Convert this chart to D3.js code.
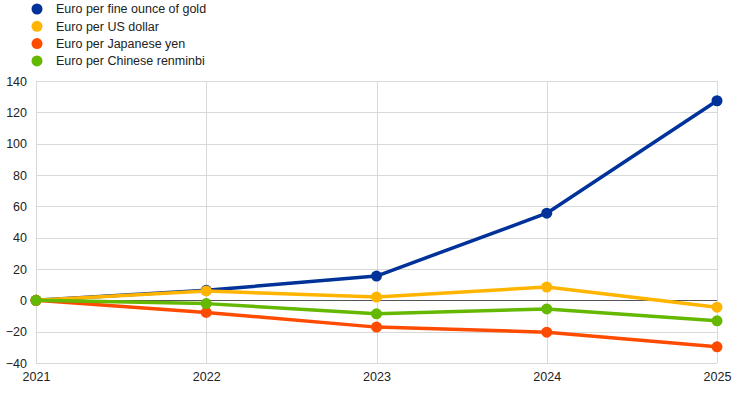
<!DOCTYPE html>
<html>
<head>
<meta charset="utf-8">
<script src="https://cdn.jsdelivr.net/npm/d3@7"></script>
<style>
  body { margin: 0; background: #fff; }
  text { font-family: "Liberation Sans", Arial, sans-serif; fill: #222; }
</style>
</head>
<body>
<div id="chart"></div>
<script>
const years = [2021, 2022, 2023, 2024, 2025];
const seriesNames = ['Euro per fine ounce of gold', 'Euro per US dollar', 'Euro per Japanese yen', 'Euro per Chinese renminbi'];
const gold = [0, 6.4, 15.5, 55.6, 127.4];
const usd = [0, 6.0, 2.1, 8.5, -4.4];
const jpy = [0, -7.7, -17.1, -20.3, -29.7];
const cny = [0, -2.1, -8.6, -5.5, -13.1];
const yTicks = [-40, -20, 0, 20, 40, 60, 80, 100, 120, 140];

const WIDTH = 744;
const HEIGHT = 393;
const MARGIN = { top: 81, right: 27, bottom: 30, left: 36 };
const COLORS = ['#003299', '#ffb400', '#ff4b00', '#65b800'];
const FONT_SIZE = '12.5px';

const seriesValues = [gold, usd, jpy, cny];

const svg = d3.select('#chart')
  .append('svg')
    .attr('width', WIDTH)
    .attr('height', HEIGHT);

const x = d3.scaleLinear()
  .domain([2021, 2025])
  .range([MARGIN.left, WIDTH - MARGIN.right]);
const y = d3.scaleLinear()
  .domain([-40, 140])
  .range([HEIGHT - MARGIN.bottom, MARGIN.top]);

// horizontal grid
svg.append('g')
  .selectAll('line')
  .data(yTicks)
  .enter()
  .append('line')
    .attr('x1', MARGIN.left)
    .attr('x2', WIDTH - MARGIN.right)
    .attr('y1', d => Math.round(y(d)) + 0.5)
    .attr('y2', d => Math.round(y(d)) + 0.5)
    .attr('stroke', '#d9d9d9')
    .attr('stroke-width', 1);

// vertical grid (one per year)
svg.append('g')
  .selectAll('line')
  .data(years)
  .enter()
  .append('line')
    .attr('x1', d => Math.round(x(d)) + 0.5)
    .attr('x2', d => Math.round(x(d)) + 0.5)
    .attr('y1', MARGIN.top)
    .attr('y2', HEIGHT - MARGIN.bottom)
    .attr('stroke', '#d9d9d9');

// zero line on top of the grid
svg.append('line')
  .attr('x1', MARGIN.left)
  .attr('x2', WIDTH - MARGIN.right)
  .attr('y1', Math.round(y(0)) + 0.5)
  .attr('y2', Math.round(y(0)) + 0.5)
  .attr('stroke', '#555');

// y axis labels
const yAxis = d3.axisLeft(y).tickValues(yTicks).tickSize(0).tickPadding(9);
svg.append('g')
  .attr('transform', `translate(${MARGIN.left}, 0)`)
  .call(yAxis)
  .call(g => g.select('.domain').remove())
  .selectAll('text')
    .style('font-size', FONT_SIZE)
    .attr('fill', '#222');

// x axis labels
const xAxis = d3.axisBottom(x).tickValues(years).tickFormat(d3.format('d')).tickSize(0).tickPadding(9);
svg.append('g')
  .attr('transform', `translate(0, ${HEIGHT - MARGIN.bottom})`)
  .call(xAxis)
  .call(g => g.select('.domain').remove())
  .selectAll('text')
    .style('font-size', FONT_SIZE)
    .attr('fill', '#222');

// lines and markers
const line = d3.line()
  .x((d, i) => x(years[i]))
  .y(d => y(d));

seriesValues.forEach((vals, s) => {
  svg.append('path')
    .datum(vals)
    .attr('fill', 'none')
    .attr('stroke', COLORS[s])
    .attr('stroke-width', 3.5)
    .attr('stroke-linejoin', 'round')
    .attr('d', line);
  svg.append('g')
    .selectAll('circle')
    .data(vals)
    .enter()
    .append('circle')
      .attr('cx', (d, i) => x(years[i]))
      .attr('cy', d => y(d))
      .attr('r', 5.5)
      .attr('fill', COLORS[s]);
});

// legend
const legend = svg.append('g')
  .selectAll('g')
  .data(seriesNames)
  .enter()
  .append('g')
    .attr('transform', (d, i) => `translate(37, ${9 + i * 17.3})`);
legend.append('circle')
  .attr('r', 5.5)
  .attr('fill', (d, i) => COLORS[i]);
legend.append('text')
  .attr('x', 19)
  .attr('dy', '0.35em')
  .style('font-size', FONT_SIZE)
  .text(d => d);
</script>
</body>
</html>
